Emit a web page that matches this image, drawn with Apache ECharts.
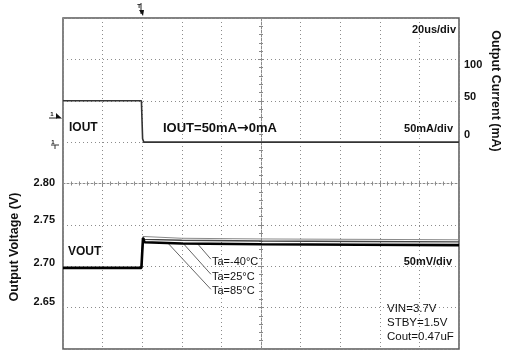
<!DOCTYPE html>
<html>
<head>
<meta charset="utf-8">
<script src="https://cdn.jsdelivr.net/npm/echarts@6/dist/echarts.min.js"></script>
<style>
html,body{margin:0;padding:0;background:#fff;}
#chart{width:505px;height:352px;}
</style>
</head>
<body>
<div id="chart"></div>
<script>
// Output current trace (time in us, current in mA)
const ioutTime  = [0, 39.6, 40.2, 40.8, 200];
const ioutValue = [50, 50, 4, 0, 0];

// Output voltage traces (time in us, voltage in V)
const voutTime  = [0, 39.6, 40.4, 41.2, 60, 100, 150, 200];
const voutM40   = [2.698, 2.698, 2.736, 2.7345, 2.7338, 2.7330, 2.7325, 2.7320];
const vout25    = [2.698, 2.698, 2.735, 2.7325, 2.7315, 2.7305, 2.7300, 2.7295];
const vout85    = [2.698, 2.698, 2.734, 2.7290, 2.7275, 2.7265, 2.7260, 2.7255];

// Leader lines from the Ta labels to the traces (time us, voltage V)
const leaderFrom = [[74.7, 2.7085], [74.7, 2.6903], [74.7, 2.6721]];
const leaderTo   = [[67.7, 2.7279], [60.6, 2.7279], [53.0, 2.7279]];

// Tick labels shown on the axes
const voltTickLabels    = ['2.65', '2.70', '2.75', '2.80'];
const currentTickLabels = ['0', '50', '100'];

// Annotation texts
const annoTexts = {
  timeDiv: '20us/div', iout: 'IOUT', ioutFrom: 'IOUT=50mA', ioutArrow: '\u2192', ioutTo: '0mA', curDiv: '50mA/div',
  vout: 'VOUT', voltDiv: '50mV/div',
  ta: ['Ta=-40\u00B0C', 'Ta=25\u00B0C', 'Ta=85\u00B0C'],
  cond: ['VIN=3.7V', 'STBY=1.5V', 'Cout=0.47uF'],
  yLeft: 'Output Voltage (V)', yRight: 'Output Current (mA)'
};

function zip(a, b) { return a.map((v, i) => [v, b[i]]); }

const FONT = '"Liberation Sans", Arial, sans-serif';
const chart = echarts.init(document.getElementById('chart'), null, {renderer: 'canvas'});

// per-label vertical nudges (as in the scan)
const voltShift = {'2.65': 'u6', '2.70': 'u3', '2.75': 'u5', '2.80': 'u1'};
const curShift  = {'0': 'u7', '50': 'u4', '100': 'd6'};
function richSet() {
  const base = {fontFamily: FONT, fontWeight: 'bold', fontSize: 11, color: '#111'};
  const r = {};
  for (let k = 1; k <= 8; k++) {
    r['u' + k] = Object.assign({padding: [0, 0, 2 * k, 0]}, base);
    r['d' + k] = Object.assign({padding: [2 * k, 0, 0, 0]}, base);
  }
  return r;
}

const gridLine = {show: true, lineStyle: {color: '#8c8c8c', width: 1, type: [1, 3]}};
const centerColor = '#8a8a8a';

function centerX(inside) {
  return {
    type: 'value', gridIndex: 0, min: 0, max: 200, interval: 20, position: 'bottom',
    axisLine: {show: inside, onZero: true, onZeroAxisIndex: 2, lineStyle: {color: centerColor, width: 1, type: [2, 2]}},
    axisTick: {show: true, inside: inside, length: 3, lineStyle: {color: centerColor}},
    minorTick: {show: true, splitNumber: 5, length: 2, lineStyle: {color: centerColor}},
    axisLabel: {show: false}, splitLine: {show: false}
  };
}
function centerY(inside) {
  return {
    type: 'value', gridIndex: 0, min: -4, max: 4, interval: 1, position: 'left',
    axisLine: {show: inside, onZero: true, onZeroAxisIndex: 3, lineStyle: {color: centerColor, width: 1, type: [2, 2]}},
    axisTick: {show: true, inside: inside, length: 3, lineStyle: {color: centerColor}},
    minorTick: {show: true, splitNumber: 5, length: 2, lineStyle: {color: centerColor}},
    axisLabel: {show: false}, splitLine: {show: false}
  };
}

function txt(text, x, y, opt) {
  return {
    type: 'text', x: x, y: y, z: 10, silent: true,
    style: Object.assign({
      text: text, fontFamily: FONT, fontSize: 12, fontWeight: 'bold', fill: '#111',
      align: 'left', verticalAlign: 'middle'
    }, opt || {})
  };
}

const graphics = [
  txt(annoTexts.timeDiv, 456, 30, {align: 'right', fontSize: 11}),
  txt(annoTexts.iout, 69, 128),
  txt('{a|' + annoTexts.ioutFrom + '}{b|' + annoTexts.ioutArrow + '}{a|' + annoTexts.ioutTo + '}', 163, 128, {
    rich: {
      a: {fontFamily: FONT, fontSize: 13, fontWeight: 'bold', fill: '#111'},
      b: {fontFamily: '"DejaVu Sans", sans-serif', fontSize: 14, fontWeight: 'bold', fill: '#111'}
    }
  }),
  txt(annoTexts.curDiv, 453, 129, {align: 'right', fontSize: 11}),
  txt(annoTexts.vout, 68, 251.5),
  txt(annoTexts.voltDiv, 452, 262, {align: 'right', fontSize: 11}),
  txt(annoTexts.ta[0], 212, 262, {fontWeight: 'normal', fontSize: 11}),
  txt(annoTexts.ta[1], 212, 277, {fontWeight: 'normal', fontSize: 11}),
  txt(annoTexts.ta[2], 212, 291, {fontWeight: 'normal', fontSize: 11}),
  txt(annoTexts.cond[0], 387, 309, {fontWeight: 'normal', fontSize: 11.5}),
  txt(annoTexts.cond[1], 387, 322.5, {fontWeight: 'normal', fontSize: 11.5}),
  txt(annoTexts.cond[2], 387, 336.5, {fontWeight: 'normal', fontSize: 11.5}),
  Object.assign(txt(annoTexts.yLeft, 15, 247, {align: 'center', fontSize: 12.5}), {rotation: Math.PI / 2}),
  Object.assign(txt(annoTexts.yRight, 495, 91, {align: 'center', fontSize: 12.5}), {rotation: -Math.PI / 2}),
  // scope markers
  txt('T', 139, 6, {fontSize: 6, align: 'center'}),
  {type: 'line', silent: true, shape: {x1: 141, y1: 3, x2: 141, y2: 14}, style: {stroke: '#222', lineWidth: 1}},
  {type: 'polygon', silent: true, shape: {points: [[139, 10], [144, 10], [143, 16]]}, style: {fill: '#111'}},
  txt('1', 52, 114, {fontSize: 6, align: 'center'}),
  {type: 'line', silent: true, shape: {x1: 49, y1: 118, x2: 57, y2: 118}, style: {stroke: '#222', lineWidth: 1}},
  {type: 'polygon', silent: true, shape: {points: [[56, 113], [62, 118.5], [56, 118.5]]}, style: {fill: '#111'}},
  txt('1', 53, 142, {fontSize: 6, align: 'center'}),
  {type: 'line', silent: true, shape: {x1: 51, y1: 145, x2: 59, y2: 145}, style: {stroke: '#333', lineWidth: 1}},
  {type: 'line', silent: true, shape: {x1: 55, y1: 145, x2: 55, y2: 149}, style: {stroke: '#333', lineWidth: 1}}
];

const option = {
  animation: false,
  backgroundColor: '#fff',
  grid: {left: 63, top: 18, right: 46, bottom: 3, show: true, borderColor: '#5a5a5a', borderWidth: 1.5, backgroundColor: 'transparent'},
  xAxis: [
    {type: 'value', gridIndex: 0, min: 0, max: 200, interval: 20, position: 'bottom',
     axisLine: {show: false, onZero: false}, axisTick: {show: false}, axisLabel: {show: false},
     splitLine: gridLine},
    centerX(true),
    centerX(false),
    {type: 'value', gridIndex: 0, min: -5, max: 5, show: false, position: 'top', axisLine: {onZero: false}}
  ],
  yAxis: [
    {type: 'value', gridIndex: 0, min: 2.60, max: 3.00, interval: 0.05, position: 'left',
     axisLine: {show: false, onZero: false}, axisTick: {show: false},
     splitLine: gridLine,
     axisLabel: {
       margin: 8, fontFamily: FONT, fontWeight: 'bold', fontSize: 11, color: '#111',
       formatter: function (v) {
         const s = v.toFixed(2);
         return voltTickLabels.indexOf(s) >= 0 ? '{' + voltShift[s] + '|' + s + '}' : '';
       },
       rich: richSet()
     }},
    {type: 'value', gridIndex: 0, min: -250, max: 150, interval: 50, position: 'right',
     axisLine: {show: false, onZero: false}, axisTick: {show: false}, splitLine: {show: false},
     axisLabel: {
       margin: 5, fontFamily: FONT, fontWeight: 'bold', fontSize: 11, color: '#111',
       formatter: function (v) {
         const s = String(Math.round(v));
         return currentTickLabels.indexOf(s) >= 0 ? '{' + curShift[s] + '|' + s + '}' : '';
       },
       rich: richSet()
     }},
    {type: 'value', gridIndex: 0, min: -4, max: 4, show: false, position: 'right', axisLine: {onZero: false}},
    centerY(true),
    centerY(false)
  ],
  series: [
    {type: 'line', name: 'IOUT', xAxisIndex: 0, yAxisIndex: 1, data: zip(ioutTime, ioutValue),
     symbol: 'none', lineStyle: {color: '#333', width: 1.6}, z: 5},
    {type: 'line', name: 'Ta=-40', xAxisIndex: 0, yAxisIndex: 0, data: zip(voutTime, voutM40),
     symbol: 'none', lineStyle: {color: '#8a8a8a', width: 1}, z: 6},
    {type: 'line', name: 'Ta=25', xAxisIndex: 0, yAxisIndex: 0, data: zip(voutTime, vout25),
     symbol: 'none', lineStyle: {color: '#444', width: 1.4}, z: 6},
    {type: 'line', name: 'Ta=85', xAxisIndex: 0, yAxisIndex: 0, data: zip(voutTime, vout85),
     symbol: 'none', lineStyle: {color: '#000', width: 2.6}, z: 7,
     markLine: {
       silent: true, symbol: 'none', label: {show: false},
       lineStyle: {color: '#666', width: 1, type: 'solid'},
       data: leaderFrom.map((p, i) => [{coord: p}, {coord: leaderTo[i]}])
     }}
  ],
  graphic: graphics
};
chart.setOption(option);
</script>
</body>
</html>
